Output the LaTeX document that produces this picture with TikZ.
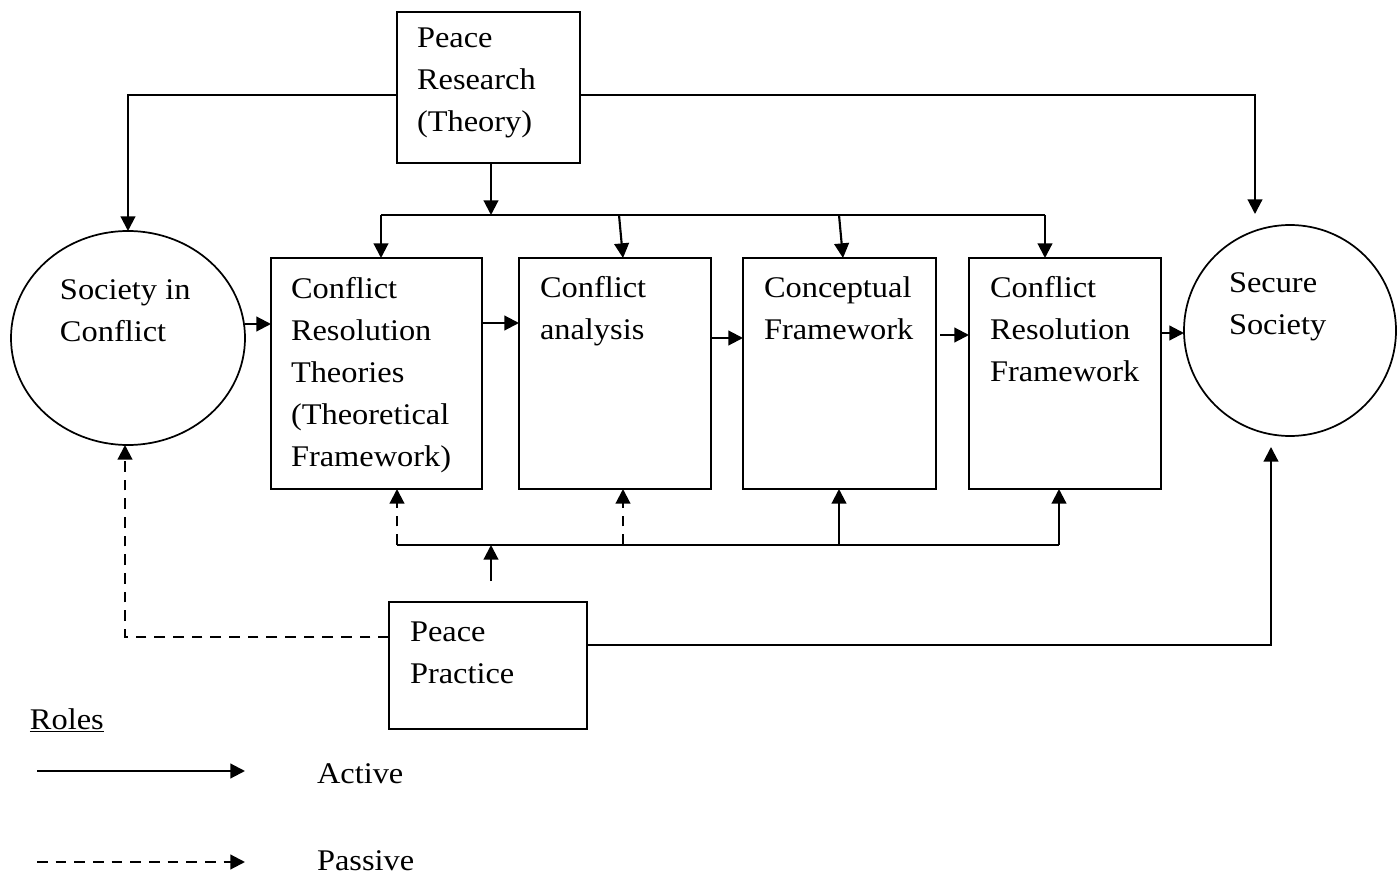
\documentclass[tikz,border=0pt]{standalone}
\usepackage{fontspec}
\setmainfont{Liberation Serif}[FakeStretch=1.08]
\usetikzlibrary{arrows.meta,shapes.geometric,calc}
\begin{document}
\begin{tikzpicture}[x=0.75pt,y=-0.75pt,
 every node/.style={inner sep=0pt,outer sep=0pt},
 box/.style={draw,line width=1.5pt,rectangle},
 circ/.style={draw,line width=1.3pt,ellipse},
 txt/.style={anchor=north west,align=left,font=\fontsize{22.5}{31.5}\selectfont},
 lbl/.style={anchor=base west,font=\fontsize{22.5}{31.5}\selectfont},
 ln/.style={line width=1.6pt},
 act/.style={ln,-{Triangle[length=11pt,width=11pt]}},
 pas/.style={act,dash pattern=on 8pt off 6pt},
]
\useasboundingbox (0,0) rectangle (1397,877);

% shapes
\node[box,minimum width=137.25pt,minimum height=113.25pt] (pr) at (488.5,87.5) {};
\node[circ,minimum width=175.5pt,minimum height=160.5pt] (soc) at (128,338) {};
\node[circ,minimum width=159pt,minimum height=158.25pt] (sec) at (1290,330.5) {};
\node[box,minimum width=158.25pt,minimum height=173.25pt] (crt) at (376.5,373.5) {};
\node[box,minimum width=144pt,minimum height=173.25pt] (ca) at (615,373.5) {};
\node[box,minimum width=144.75pt,minimum height=173.25pt] (cf) at (839.5,373.5) {};
\node[box,minimum width=144pt,minimum height=173.25pt] (crf) at (1065,373.5) {};
\node[box,minimum width=148.5pt,minimum height=95.25pt] (pp) at (488,665.5) {};

% texts
\node[txt] (tpr) at (417,18.6) {\strut Peace\\Research\\(Theory)};
\node[txt] (tsoc) at (60,270.6) {\strut Society in\\Conflict};
\node[txt] (tcrt) at (291,268.6) {\strut Conflict\\Resolution\\Theories\\(Theoretical\\Framework)};
\node[txt] (tca) at (540,268.6) {\strut Conflict\\analysis};
\node[txt] (tcf) at (764,268.6) {\strut Conceptual\\Framework};
\node[txt] (tcrf) at (990,268.6) {\strut Conflict\\Resolution\\Framework};
\node[txt] (tsec) at (1229,263.6) {\strut Secure\\Society};
\node[txt] (tpp) at (410,611.6) {\strut Peace\\Practice};
\node[lbl] (roles) at (30,729) {\underline{Roles}};
\node[lbl] (active) at (317,783) {Active};
\node[lbl] (passive) at (317,870) {Passive};

% top connections from Peace Research
\coordinate (tl) at (128,95);
\coordinate (tr) at (1255,95);
\coordinate (trend) at (1255,214);
\draw[act] (pr.west |- tl) -- (tl) -- (soc.north);
\draw[act] (pr.east |- tr) -- (tr) -- (trend);
\coordinate (bus) at (491,215);
\draw[act] (pr.south -| bus) -- (bus);
\coordinate (busL) at (381,215);
\coordinate (busR) at (1045,215);
\coordinate (bus2) at (619,215);
\coordinate (bus3) at (839,215);
\draw[ln] (busL) -- (busR);
\draw[act] (busL) -- (crt.north -| busL);
\draw[act] (bus2) -- (ca.north -| 623,0);
\draw[act] (bus3) -- (cf.north -| 843,0);
\draw[act] (busR) -- (crf.north -| busR);

% horizontal chain
\draw[act] (soc.east |- 0,324) -- (crt.west |- 0,324);
\draw[act] (crt.east |- 0,323) -- (ca.west |- 0,323);
\draw[act] (ca.east |- 0,338) -- (cf.west |- 0,338);
\draw[act] ($(cf.east |- 0,335)+(4,0)$) -- (crf.west |- 0,335);
\draw[act] (crf.east |- 0,333) -- (sec.west |- 0,333);

% bottom bus from Peace Practice
\coordinate (bbL) at (397,545);
\coordinate (bbR) at (1059,545);
\coordinate (bb2) at (623,545);
\coordinate (bb3) at (839,545);
\draw[ln] (bbL) -- (bbR);
\draw[pas] (bbL) -- (crt.south -| bbL);
\draw[pas] (bb2) -- (ca.south -| bb2);
\draw[act] (bb3) -- (cf.south -| bb3);
\draw[act] (bbR) -- (crf.south -| bbR);
\coordinate (ppup) at (491,581);
\draw[act] (ppup) -- (ppup |- bbL);

% Peace Practice to societies
\coordinate (pl) at (125,637);
\draw[pas] (pp.west |- pl) -- (pl) -- (soc.south -| pl);
\coordinate (prr) at (1271,645);
\coordinate (prend) at (1271,447);
\draw[act] (pp.east |- prr) -- (prr) -- (prend);

% legend
\coordinate (la1) at (37,771);
\coordinate (la2) at (245,771);
\coordinate (lp1) at (37,862);
\coordinate (lp2) at (245,862);
\draw[act] (la1) -- (la2);
\draw[pas] (lp1) -- (lp2);
\end{tikzpicture}
\end{document}
